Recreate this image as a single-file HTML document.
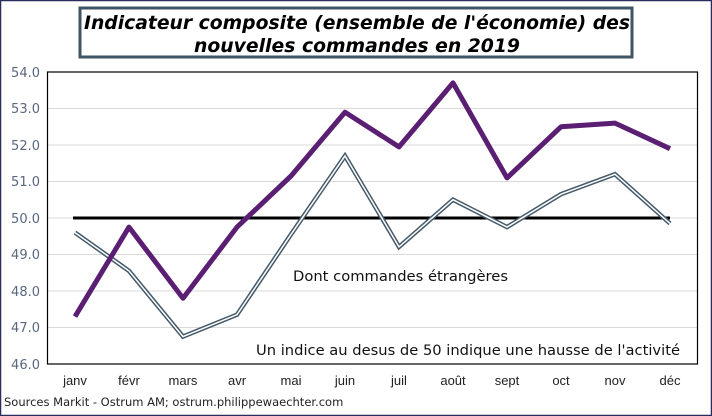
<!DOCTYPE html>
<html><head><meta charset="utf-8"><style>
body{margin:0;background:#fff}
svg{display:block}
</style></head><body>
<svg width="712" height="416" viewBox="0 0 712 416" xmlns="http://www.w3.org/2000/svg" font-family="Verdana, 'DejaVu Sans', sans-serif">
<rect x="0.5" y="0.5" width="711" height="415" fill="#fff" stroke="#2b2b5e" stroke-width="1.5"/>
<rect x="80" y="8" width="552" height="49" fill="#fff" stroke="#3d5566" stroke-width="3"/>
<text x="84" y="29" font-size="19" font-weight="bold" font-style="italic" textLength="546" lengthAdjust="spacingAndGlyphs">Indicateur composite (ensemble de l'économie) des</text>
<text x="194" y="52" font-size="19" font-weight="bold" font-style="italic" textLength="326" lengthAdjust="spacingAndGlyphs">nouvelles commandes en 2019</text>
<g stroke="#d9d9d9" stroke-width="1">
<line x1="48" x2="698" y1="108.5" y2="108.5"/><line x1="48" x2="698" y1="145" y2="145"/>
<line x1="48" x2="698" y1="181.5" y2="181.5"/><line x1="48" x2="698" y1="218" y2="218"/>
<line x1="48" x2="698" y1="254.5" y2="254.5"/><line x1="48" x2="698" y1="291" y2="291"/>
<line x1="48" x2="698" y1="327.5" y2="327.5"/>
</g>
<rect x="47.5" y="72" width="650" height="292" fill="none" stroke="#000" stroke-width="1.2"/>
<g font-size="13" fill="#596780" text-anchor="end">
<text x="40" y="77">54.0</text><text x="40" y="113">53.0</text><text x="40" y="150">52.0</text>
<text x="40" y="186">51.0</text><text x="40" y="223">50.0</text><text x="40" y="259">49.0</text>
<text x="40" y="296">48.0</text><text x="40" y="332">47.0</text><text x="40" y="369">46.0</text>
</g>
<g font-size="13" fill="#222" text-anchor="middle" font-family="'Liberation Sans', Arial, sans-serif">
<text x="75" y="385">janv</text><text x="129" y="385">févr</text><text x="183" y="385">mars</text>
<text x="237" y="385">avr</text><text x="291" y="385">mai</text><text x="345" y="385">juin</text>
<text x="399" y="385">juil</text><text x="453" y="385">août</text><text x="507" y="385">sept</text>
<text x="561" y="385">oct</text><text x="615" y="385">nov</text><text x="670" y="385">déc</text>
</g>
<line x1="73" x2="670" y1="218" y2="218" stroke="#000" stroke-width="3"/>
<polyline fill="none" stroke="#44596a" stroke-width="4.5" stroke-linejoin="miter" points="75,232.6 129,270.9 183,336.6 237,314.7 291,234.4 345,155.9 399,246.9 453,199.7 507,227.1 561,194.2 615,174.2 670,223.5"/>
<polyline fill="none" stroke="#fff" stroke-width="1.5" stroke-linejoin="miter" points="75,232.6 129,270.9 183,336.6 237,314.7 291,234.4 345,155.9 399,246.9 453,199.7 507,227.1 561,194.2 615,174.2 670,223.5"/>
<polyline fill="none" stroke="#5a1f72" stroke-width="5" stroke-linejoin="round" points="75,316.6 129,227.1 183,298.3 237,227.1 291,176 345,112.2 399,146.9 453,82.9 507,177.9 561,126.8 615,123.1 670,148.7"/>
<g font-family="'DejaVu Sans', sans-serif" font-size="14" fill="#111">
<text x="293" y="281" textLength="215" lengthAdjust="spacingAndGlyphs">Dont commandes étrangères</text>
<text x="256" y="355" textLength="424" lengthAdjust="spacingAndGlyphs">Un indice au desus de 50 indique une hausse de l'activité</text>
</g>
<text x="4" y="406" font-size="11.5" fill="#222">Sources Markit - Ostrum AM; ostrum.philippewaechter.com</text>
</svg>
</body></html>
